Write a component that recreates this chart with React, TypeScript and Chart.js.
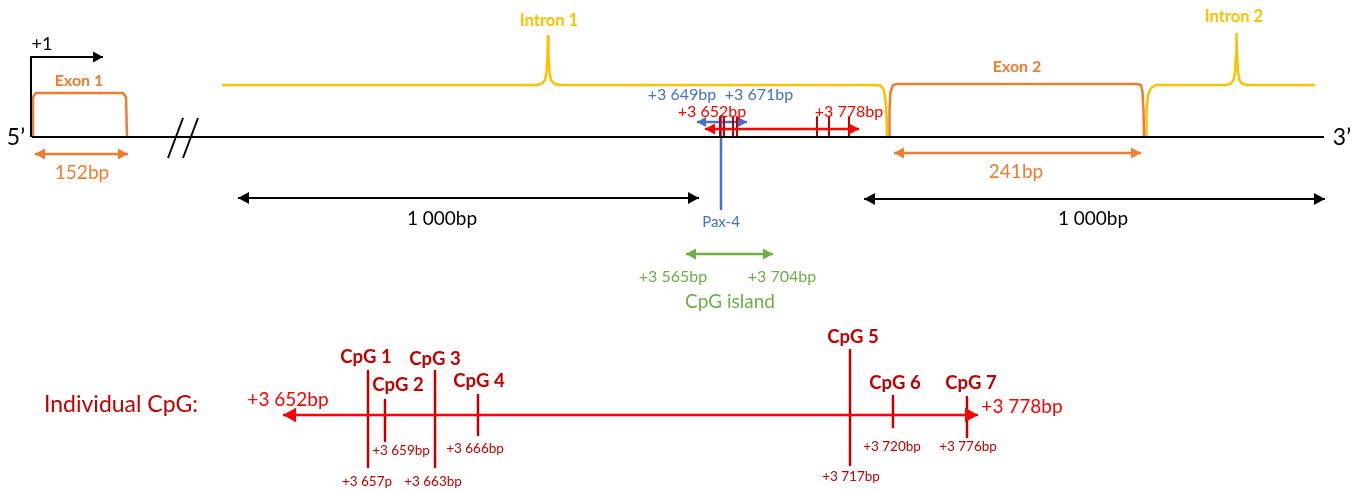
import React, { useEffect, useRef } from 'react';
import { Chart, registerables } from 'chart.js';

Chart.register(...registerables);

const W = 1365;
const H = 492;
const FONT = 'Lato, "Open Sans", sans-serif';

const BLACK = '#000000';
const ORANGE = '#ED7D31';
const YELLOW = '#FFC000';
const BLUE = '#4472C4';
const GREEN = '#70AD47';
const RED = '#FF0000';
const DARK = '#C00000';

// ---- data (diagram values) ----
const exonNames = ['Exon 1', 'Exon 2'];
const intronNames = ['Intron 1', 'Intron 2'];
const exonLengths = ['152bp', '241bp'];
const flankLengths = ['1 000bp', '1 000bp'];
const pax4Range = ['+3 649bp', '+3 671bp'];
const regionRange = ['+3 652bp', '+3 778bp'];
const islandRange = ['+3 565bp', '+3 704bp'];
const cpgNames = ['CpG 1', 'CpG 2', 'CpG 3', 'CpG 4', 'CpG 5', 'CpG 6', 'CpG 7'];
const cpgPositions = ['+3 657p', '+3 659bp', '+3 663bp', '+3 666bp', '+3 717bp', '+3 720bp', '+3 776bp'];

// ---- layout (diagram coordinates, 1 unit = 1 px) ----
const cpgX = [368, 385, 435, 478, 850, 893, 967];
const cpgTop = [371, 400, 371, 395, 350, 396, 397];
const cpgBottom = [467, 441, 467, 435, 465, 427, 437];
const cpgNameXY = [[366, 357], [398, 385], [435, 359], [479, 381], [853, 337], [895, 383], [971, 383]];
const cpgPosXY = [[367, 482], [401, 451], [433, 482], [475, 449], [851, 477], [892, 447], [968, 447]];
const topTickX = [720, 724, 733, 737, 817, 829, 849];

type P = { x: number; y: number };
const pts = (arr: number[][]): P[] => arr.map(([x, y]) => ({ x, y }));

function line(data: number[][], color: string, width = 2, arrow?: string, head = 10) {
  return {
    data: pts(data),
    borderColor: color,
    backgroundColor: color,
    borderWidth: width,
    showLine: true,
    pointRadius: 0,
    tension: 0,
    fill: false,
    arrow,
    head,
    borderCapStyle: 'butt',
    borderJoinStyle: 'round',
  } as any;
}

function buildDatasets() {
  const ds: any[] = [];
  // main strand
  ds.push(line([[32, 137], [1324, 137]], BLACK, 2));
  // +1 arrow
  ds.push(line([[31, 137], [31, 57], [103, 57]], BLACK, 2, 'end', 10));
  // exon 1
  ds.push(line([[33, 137], [33, 97], [36, 93], [123, 93], [126, 97], [127, 137]], ORANGE, 2.5));
  ds.push(line([[35, 154], [128, 154]], ORANGE, 2.5, 'both', 10));
  // break marks
  ds.push(line([[168, 158], [183, 118]], BLACK, 2));
  ds.push(line([[183, 158], [198, 118]], BLACK, 2));
  // intron 1
  ds.push(line([
    [222, 85], [537, 85], [542, 83.5], [545, 80], [546.5, 72], [547.5, 55], [548, 36],
    [548.5, 55], [549.5, 72], [551, 80], [554, 83.5], [559, 85],
    [877, 85], [881, 86], [884, 90], [885.5, 100], [886.5, 115], [887, 136],
  ], YELLOW, 2.5));
  // exon 2
  ds.push(line([
    [889, 136], [889.5, 110], [890.5, 92], [893, 85], [897, 84], [1137, 84],
    [1141, 85], [1142.5, 92], [1143.5, 110], [1144, 136],
  ], ORANGE, 2.5));
  // intron 2
  ds.push(line([
    [1146, 136], [1146.5, 112], [1148, 95], [1151, 88], [1156, 85], [1226, 85],
    [1231, 83.5], [1233.5, 80], [1235, 72], [1236, 55], [1236.5, 34], [1237, 55],
    [1238, 72], [1239.5, 80], [1242, 83.5], [1247, 85], [1315, 85],
  ], YELLOW, 2.5));
  ds.push(line([[894, 153], [1141, 153]], ORANGE, 2.5, 'both', 10));
  // 1000bp flanks
  ds.push(line([[238, 198], [699, 198]], BLACK, 2, 'both', 11));
  ds.push(line([[864, 199], [1325, 199]], BLACK, 2, 'both', 11));
  // top red region arrow + ticks
  ds.push(line([[705, 129], [859, 129]], RED, 2.5, 'both', 10));
  topTickX.forEach((x) => ds.push(line([[x, 117], [x, 136]], DARK, 2)));
  // Pax-4
  ds.push(line([[697, 122], [747, 122]], BLUE, 2.5, 'both', 9));
  ds.push(line([[721, 116], [721, 209]], BLUE, 2.5));
  // CpG island
  ds.push(line([[686, 254], [773, 254]], GREEN, 2.5, 'both', 10));
  // individual CpG
  ds.push(line([[283, 415], [978, 415]], RED, 2.5, 'both', 13));
  cpgX.forEach((x, i) => ds.push(line([[x, cpgTop[i]], [x, cpgBottom[i]]], DARK, 2.5)));
  return ds;
}

type L = { t: string; x: number; y: number; c: string; s: number; b?: boolean };

function buildLabels(): L[] {
  const L: L[] = [
    { t: '+1', x: 42, y: 44, c: BLACK, s: 18 },
    { t: '5\u2019', x: 16, y: 138, c: BLACK, s: 23 },
    { t: '3\u2019', x: 1342, y: 138, c: BLACK, s: 23 },
    { t: exonNames[0], x: 79, y: 81, c: ORANGE, s: 16, b: true },
    { t: exonNames[1], x: 1017, y: 67, c: ORANGE, s: 16, b: true },
    { t: intronNames[0], x: 549, y: 21, c: YELLOW, s: 16.5, b: true },
    { t: intronNames[1], x: 1234, y: 17, c: YELLOW, s: 16.5, b: true },
    { t: exonLengths[0], x: 82, y: 173, c: ORANGE, s: 19 },
    { t: exonLengths[1], x: 1016, y: 172, c: ORANGE, s: 19 },
    { t: flankLengths[0], x: 442, y: 219, c: BLACK, s: 19 },
    { t: flankLengths[1], x: 1093, y: 219, c: BLACK, s: 19 },
    { t: pax4Range[0], x: 682, y: 95, c: BLUE, s: 16 },
    { t: pax4Range[1], x: 759, y: 95, c: BLUE, s: 16 },
    { t: regionRange[0], x: 712, y: 112, c: RED, s: 16 },
    { t: regionRange[1], x: 849, y: 112, c: RED, s: 16 },
    { t: 'Pax-4', x: 721, y: 222, c: BLUE, s: 15 },
    { t: islandRange[0], x: 673, y: 277, c: GREEN, s: 16 },
    { t: islandRange[1], x: 782, y: 277, c: GREEN, s: 16 },
    { t: 'CpG island', x: 730, y: 302, c: GREEN, s: 19 },
    { t: 'Individual CpG:', x: 121, y: 405, c: DARK, s: 23 },
    { t: regionRange[0], x: 288, y: 400, c: RED, s: 19 },
    { t: regionRange[1], x: 1022, y: 407, c: RED, s: 19 },
  ];
  cpgNames.forEach((n, i) => L.push({ t: n, x: cpgNameXY[i][0], y: cpgNameXY[i][1], c: DARK, s: 18.5, b: true }));
  cpgPositions.forEach((n, i) => L.push({ t: n, x: cpgPosXY[i][0], y: cpgPosXY[i][1], c: DARK, s: 13.5 }));
  return L;
}

const arrowPlugin = {
  id: 'arrowheads',
  afterDatasetsDraw(chart: any) {
    const ctx = chart.ctx;
    chart.data.datasets.forEach((d: any, i: number) => {
      if (!d.arrow) return;
      const meta = chart.getDatasetMeta(i);
      const el = meta.data;
      const n = el.length;
      const h = d.head || 10;
      const w = h * 0.55;
      const draw = (tip: any, from: any) => {
        const ang = Math.atan2(tip.y - from.y, tip.x - from.x);
        ctx.save();
        ctx.translate(tip.x, tip.y);
        ctx.rotate(ang);
        ctx.beginPath();
        ctx.moveTo(0, 0);
        ctx.lineTo(-h, -w);
        ctx.lineTo(-h, w);
        ctx.closePath();
        ctx.fillStyle = d.borderColor;
        ctx.fill();
        ctx.restore();
      };
      if (d.arrow === 'end' || d.arrow === 'both') draw(el[n - 1], el[n - 2]);
      if (d.arrow === 'start' || d.arrow === 'both') draw(el[0], el[1]);
    });
  },
};

const labelPlugin = {
  id: 'diagramLabels',
  afterDraw(chart: any) {
    const ctx = chart.ctx;
    const xs = chart.scales.x;
    const ys = chart.scales.y;
    ctx.save();
    ctx.textAlign = 'center';
    ctx.textBaseline = 'middle';
    buildLabels().forEach((l) => {
      ctx.font = `${l.b ? 'bold ' : ''}${l.s}px ${FONT}`;
      ctx.fillStyle = l.c;
      ctx.fillText(l.t, xs.getPixelForValue(l.x), ys.getPixelForValue(l.y));
    });
    ctx.restore();
  },
};

export default function App() {
  const ref = useRef<HTMLCanvasElement | null>(null);
  useEffect(() => {
    if (!ref.current) return;
    const chart = new Chart(ref.current, {
      type: 'scatter',
      data: { datasets: buildDatasets() },
      options: {
        animation: false,
        responsive: false,
        events: [],
        layout: { padding: 0 },
        plugins: { legend: { display: false }, tooltip: { enabled: false } },
        scales: {
          x: { type: 'linear', min: 0, max: W, display: false },
          y: { type: 'linear', min: 0, max: H, reverse: true, display: false },
        },
      } as any,
      plugins: [arrowPlugin, labelPlugin],
    });
    return () => chart.destroy();
  }, []);
  return (
    <div style={{ position: 'absolute', left: 0, top: 0, width: W, height: H, background: '#fff' }}>
      <canvas ref={ref} width={W} height={H} style={{ display: 'block' }} />
    </div>
  );
}
